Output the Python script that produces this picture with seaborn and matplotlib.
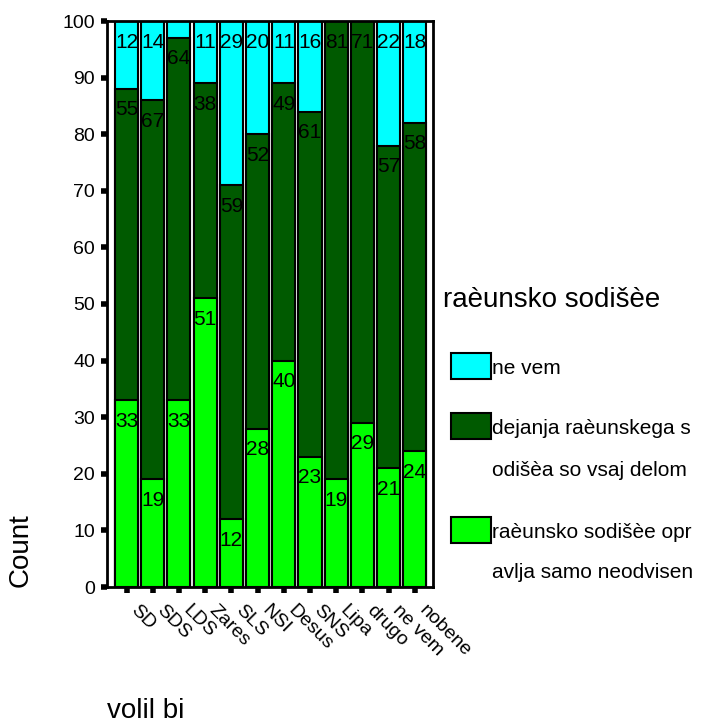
import matplotlib
matplotlib.use("Agg")
import matplotlib.pyplot as plt
import matplotlib.transforms as mtransforms
import seaborn as sns
import numpy as np
from matplotlib.patches import Rectangle

# ---- data ----
categories = ["SD", "SDS", "LDS", "Zares", "SLS", "NSI", "Desus", "SNS", "Lipa", "drugo", "ne vem", "nobene"]
samo_neodvisen = [33, 19, 33, 51, 12, 28, 40, 23, 19, 29, 21, 24]      # bright green (bottom)
vsaj_delom = [55, 67, 64, 38, 59, 52, 49, 61, 81, 71, 57, 58]          # dark green (middle)
ne_vem = [12, 14, 3, 11, 29, 20, 11, 16, 0, 0, 22, 18]                 # cyan (top)

series_labels = ["ne vem", "dejanja raèunskega s\nodišèa so vsaj delom", "raèunsko sodišèe opr\navlja samo neodvisen"]
legend_title = "raèunsko sodišèe"

c_cyan = "#00FFFF"
c_dark = "#005A00"
c_light = "#00FF00"

plt.rcParams["font.family"] = ["Liberation Sans", "DejaVu Sans"]

W, H = 705, 726
fig = plt.figure(figsize=(W / 100, H / 100), dpi=100)
ax = fig.add_axes([107 / W, 1 - 587 / H, 326 / W, (587 - 21) / H])

b = np.array(samo_neodvisen)
m = np.array(vsaj_delom)
t = np.array(ne_vem)
layers = [
    (b + m + t, c_cyan),
    (b + m, c_dark),
    (b, c_light),
]
for heights, col in layers:
    sns.barplot(x=categories, y=heights, color=col, saturation=1, width=0.88,
                edgecolor="black", linewidth=1.5, ax=ax, order=categories)

# value labels just below each segment top
tops = [(b, samo_neodvisen), (b + m, vsaj_delom), (b + m + t, ne_vem)]
for top_vals, vals in tops:
    for i, (tv, v) in enumerate(zip(top_vals, vals)):
        if v >= 5:
            ax.annotate(str(v), xy=(i, tv), xytext=(0, -21), textcoords="offset pixels",
                        ha="center", va="center", fontsize=15, color="black")

ax.set_xlim(-0.744, 11.69)
ax.set_ylim(0, 100)
ax.set_yticks(np.arange(0, 101, 10))
ax.tick_params(axis="y", labelsize=14, length=4.2, width=4, pad=4.5, color="black")
ax.tick_params(axis="x", labelsize=14, length=4.2, width=4, pad=11, color="black")
ax.set_xticks(range(len(categories)))
ax.set_xticklabels(categories, rotation=-45, ha="left", va="center", rotation_mode="anchor")
shift = mtransforms.ScaledTranslation(6.5 / 100, 0, fig.dpi_scale_trans)
for lab in ax.get_xticklabels():
    lab.set_transform(lab.get_transform() + shift)
for s in ax.spines.values():
    s.set_linewidth(2)
    s.set_color("black")

ax.set_ylabel("Count", fontsize=20)
ax.yaxis.label.set_va("center")
ax.yaxis.set_label_coords((21 - 107) / 326, (587 - 550) / 566)
ax.set_xlabel("volil bi", fontsize=20, ha="left", va="baseline")
ax.xaxis.set_label_coords(0, (587 - 718) / 566)

# legend (drawn in figure pixel coordinates)
def fx(px):
    return px / W

def fy(py):
    return 1 - py / H

fig.text(fx(443), fy(300), legend_title, fontsize=20, ha="left", va="center")
entries = [
    (c_cyan, 353, [series_labels[0]], [368]),
    (c_dark, 413, series_labels[1].split("\n"), [428, 470]),
    (c_light, 517, series_labels[2].split("\n"), [532, 572]),
]
for col, ytop, lines, ycs in entries:
    fig.patches.append(Rectangle((fx(451), fy(ytop + 26)), 40 / W, 26 / H,
                                 transform=fig.transFigure, facecolor=col,
                                 edgecolor="black", linewidth=1.5))
    for line, yc in zip(lines, ycs):
        fig.text(fx(492), fy(yc), line, fontsize=15, ha="left", va="center")

fig.savefig("out.png", dpi=100)
